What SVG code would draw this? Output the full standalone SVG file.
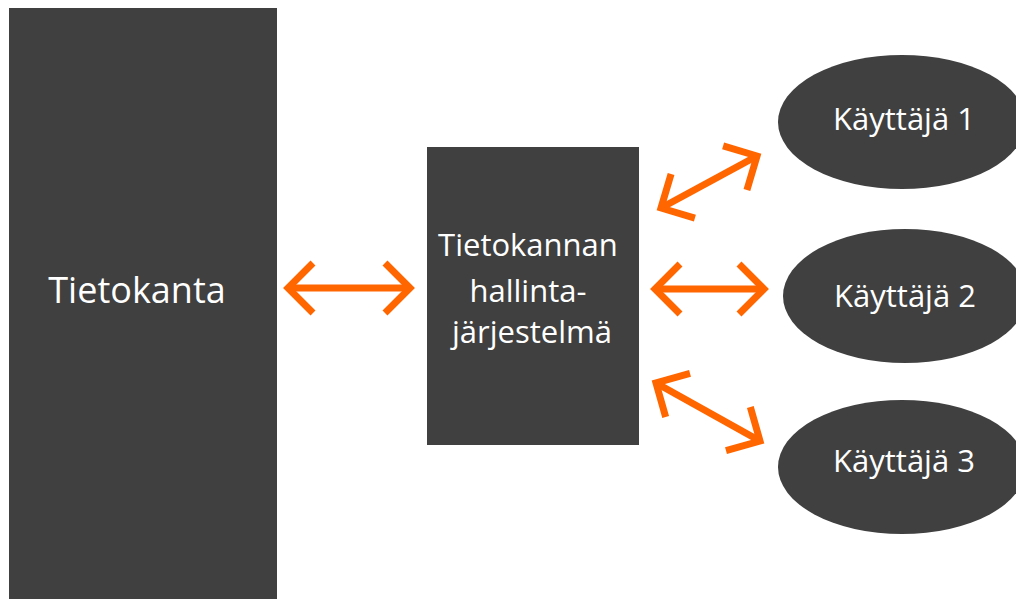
<svg xmlns="http://www.w3.org/2000/svg" width="1016" height="599" viewBox="0 0 1016 599">
  <style>
    .node { fill: #404040; }
    .label { fill: #ffffff; font-family: "Open Sans", "Liberation Sans", sans-serif; text-anchor: middle; }
    .conn { stroke: #ff6600; stroke-width: 7; fill: none; marker-start: url(#chev); marker-end: url(#chev); }
  </style>
  <defs>
    <marker id="chev" markerUnits="userSpaceOnUse" orient="auto-start-reverse" refX="0" refY="0" markerWidth="60" markerHeight="60" overflow="visible">
      <path d="M-25,-25 L0,0 L-25,25" fill="none" stroke="#ff6600" stroke-width="7" stroke-linejoin="miter"/>
    </marker>
  </defs>
  <rect width="1016" height="599" fill="#ffffff"/>
  <g id="tietokanta">
    <rect class="node" x="9" y="8" width="268" height="600"/>
    <text class="label" x="137" y="303" font-size="36">Tietokanta</text>
  </g>
  <g id="hallintajarjestelma">
    <rect class="node" x="427" y="147" width="212" height="298"/>
    <text class="label" font-size="31">
      <tspan x="532" y="256">Tietokannan</tspan>
      <tspan x="532" y="302">hallinta-</tspan>
      <tspan x="532" y="343">järjestelmä</tspan>
    </text>
  </g>
  <g id="kayttaja1">
    <ellipse class="node" cx="902" cy="122" rx="124" ry="67"/>
    <text class="label" x="904" y="130" font-size="31">Käyttäjä 1</text>
  </g>
  <g id="kayttaja2">
    <ellipse class="node" cx="905" cy="296" rx="122" ry="67"/>
    <text class="label" x="905" y="307" font-size="31">Käyttäjä 2</text>
  </g>
  <g id="kayttaja3">
    <ellipse class="node" cx="902" cy="467" rx="124" ry="67"/>
    <text class="label" x="904" y="472" font-size="31">Käyttäjä 3</text>
  </g>
  <g id="connectors">
    <line class="conn" x1="288" y1="288" x2="410" y2="288"/>
    <line class="conn" x1="655" y1="289" x2="764" y2="289"/>
    <line class="conn" x1="661" y1="208" x2="757" y2="156"/>
    <line class="conn" x1="656" y1="383" x2="760" y2="441"/>
  </g>
</svg>
